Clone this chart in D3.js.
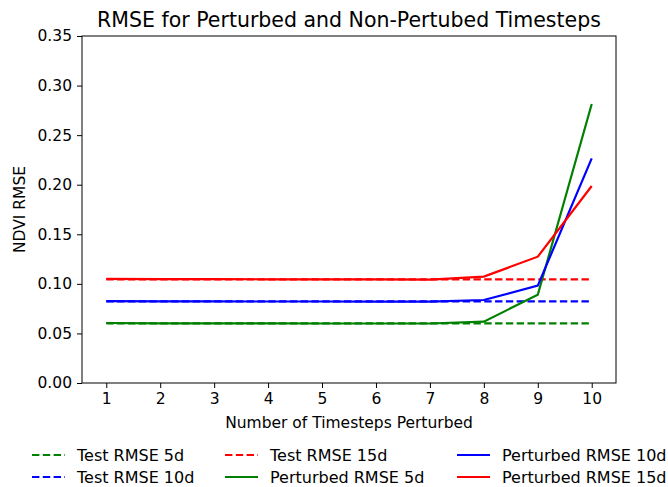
<!DOCTYPE html>
<html>
<head>
<meta charset="utf-8">
<script src="https://cdn.jsdelivr.net/npm/d3@7.9.0/dist/d3.min.js"></script>
<style>
  body { margin: 0; background: #fff; }
  svg { display: block; font-family: "DejaVu Sans", sans-serif; }
</style>
</head>
<body>
<svg id="chart" width="668" height="487"></svg>
<script>
// timesteps perturbed
const steps = [1, 2, 3, 4, 5, 6, 7, 8, 9, 10];

// test RMSE (flat baselines)
const test5d  = [0.0602, 0.0602, 0.0602, 0.0602, 0.0602, 0.0602, 0.0602, 0.0602, 0.0602, 0.0602];
const test10d = [0.0824, 0.0824, 0.0824, 0.0824, 0.0824, 0.0824, 0.0824, 0.0824, 0.0824, 0.0824];
const test15d = [0.1046, 0.1046, 0.1046, 0.1046, 0.1046, 0.1046, 0.1046, 0.1046, 0.1046, 0.1046];

// perturbed RMSE
const pert5d  = [0.0605, 0.0602, 0.0601, 0.0601, 0.0600, 0.0600, 0.0600, 0.0619, 0.0890, 0.2814];
const pert10d = [0.0826, 0.0824, 0.0823, 0.0822, 0.0822, 0.0821, 0.0821, 0.0837, 0.0982, 0.2266];
const pert15d = [0.1050, 0.1048, 0.1047, 0.1046, 0.1046, 0.1045, 0.1043, 0.1073, 0.1274, 0.1987];

const yTicks = [0, 0.05, 0.10, 0.15, 0.20, 0.25, 0.30, 0.35];

const series = [
  { name: 'Test RMSE 5d', values: test5d, color: '#008000', dashed: true },
  { name: 'Test RMSE 10d', values: test10d, color: '#0000ff', dashed: true },
  { name: 'Test RMSE 15d', values: test15d, color: '#ff0000', dashed: true },
  { name: 'Perturbed RMSE 5d', values: pert5d, color: '#008000', dashed: false },
  { name: 'Perturbed RMSE 10d', values: pert10d, color: '#0000ff', dashed: false },
  { name: 'Perturbed RMSE 15d', values: pert15d, color: '#ff0000', dashed: false }
];

const margin = { top: 36, right: 52, bottom: 104, left: 82 };
const width = 668 - margin.left - margin.right;
const height = 487 - margin.top - margin.bottom;
const dash = '7.4,3.4';

const svg = d3.select('#chart');
const g = svg.append('g').attr('transform', `translate(${margin.left},${margin.top})`);

const x = d3.scaleLinear().domain([0.55, 10.45]).range([0, width]);
const y = d3.scaleLinear().domain([0, 0.35]).range([height, 0]);

const line = d3.line()
  .x((d, i) => x(steps[i]))
  .y(d => y(d));

// lines
series.forEach(s => {
  g.append('path')
    .datum(s.values)
    .attr('fill', 'none')
    .attr('stroke', s.color)
    .attr('stroke-width', 2.2)
    .attr('stroke-dasharray', s.dashed ? dash : null)
    .attr('d', line);
});

// axes
const xAxis = g.append('g')
  .attr('transform', `translate(0,${height})`)
  .call(d3.axisBottom(x).tickValues(steps).tickFormat(d3.format('d')).tickSize(5).tickPadding(5));

const yAxis = g.append('g')
  .call(d3.axisLeft(y).tickValues(yTicks).tickFormat(d3.format('.2f')).tickSize(5).tickPadding(5));

[xAxis, yAxis].forEach(a => {
  a.select('.domain').remove();
  a.selectAll('text').attr('font-size', 15.5).attr('fill', '#000').attr('font-family', '"DejaVu Sans", sans-serif');
  a.selectAll('line').attr('stroke', '#000').attr('stroke-width', 1);
});

// frame
g.append('rect')
  .attr('width', width)
  .attr('height', height)
  .attr('fill', 'none')
  .attr('stroke', '#000')
  .attr('stroke-width', 1);

// title + labels
svg.append('text')
  .attr('x', margin.left + width / 2)
  .attr('y', 27)
  .attr('text-anchor', 'middle')
  .attr('font-size', 20.5)
  .text('RMSE for Perturbed and Non-Pertubed Timesteps');

svg.append('text')
  .attr('x', margin.left + width / 2)
  .attr('y', 423)
  .attr('dy', '0.35em')
  .attr('text-anchor', 'middle')
  .attr('font-size', 15.5)
  .text('Number of Timesteps Perturbed');

svg.append('text')
  .attr('transform', `translate(20,${margin.top + height / 2}) rotate(-90)`)
  .attr('dy', '0.35em')
  .attr('text-anchor', 'middle')
  .attr('font-size', 15.5)
  .text('NDVI RMSE');

// legend: 3 columns, filled column-wise
const colX = [32, 225, 457];
const rowY = [455, 477];
const legend = svg.append('g');
series.forEach((s, i) => {
  const col = Math.floor(i / 2), row = i % 2;
  const lg = legend.append('g').attr('transform', `translate(${colX[col]},${rowY[row]})`);
  lg.append('line')
    .attr('x1', 0).attr('x2', 33)
    .attr('stroke', s.color)
    .attr('stroke-width', 2.2)
    .attr('stroke-dasharray', s.dashed ? dash : null);
  lg.append('text')
    .attr('x', 45)
    .attr('dy', '0.35em')
    .attr('font-size', 16)
    .text(s.name);
});
</script>
</body>
</html>
